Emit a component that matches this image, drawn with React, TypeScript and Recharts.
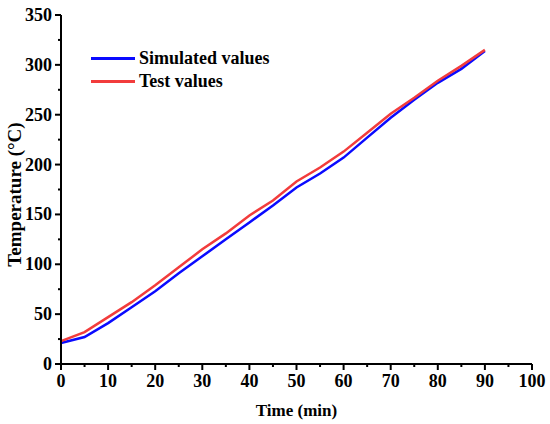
import { LineChart, Line, XAxis, YAxis, Legend } from "recharts";

// time in minutes, temperatures in °C
const times = [0, 5, 10, 15, 20, 25, 30, 35, 40, 45, 50, 55, 60, 65, 70, 75, 80, 85, 90];
const simulated = [21, 27, 41, 57, 73, 91, 108, 125, 142, 159, 177, 191, 207, 227, 247, 265, 282, 296, 314];
const tested = [23, 32, 47, 62, 79, 97, 115, 131, 149, 164, 183, 197, 213, 232, 251, 267, 284, 299, 315];

const xTicks = [0, 5, 10, 15, 20, 25, 30, 35, 40, 45, 50, 55, 60, 65, 70, 75, 80, 85, 90, 95, 100];
const yTicks = [0, 25, 50, 75, 100, 125, 150, 175, 200, 225, 250, 275, 300, 325, 350];

const data = times.map((t, i) => ({ time: t, simulated: simulated[i], test: tested[i] }));

const FONT = '"Liberation Serif", "Times New Roman", serif';
const BLUE = "#0a0aff";
const RED = "#f23c3c";

function XTick({ x, y, payload }: any) {
  const major = payload.value % 10 === 0;
  return (
    <g>
      <line x1={x} x2={x} y1={y} y2={y + (major ? 6 : 3)} stroke="#000" strokeWidth={2} />
      {major && (
        <text x={x} y={y + 17} textAnchor="middle" dominantBaseline="central"
          fontFamily={FONT} fontWeight="bold" fontSize={18} fill="#000">
          {payload.value}
        </text>
      )}
    </g>
  );
}

function YTick({ x, y, payload }: any) {
  const major = payload.value % 50 === 0;
  return (
    <g>
      <line x1={x} x2={x - (major ? 6 : 3)} y1={y} y2={y} stroke="#000" strokeWidth={2} />
      {major && (
        <text x={x - 9} y={y} textAnchor="end" dominantBaseline="central"
          fontFamily={FONT} fontWeight="bold" fontSize={18} fill="#000">
          {payload.value}
        </text>
      )}
    </g>
  );
}

function LegendBox() {
  const rows = [
    { name: "Simulated values", color: BLUE },
    { name: "Test values", color: RED },
  ];
  return (
    <div style={{ fontFamily: FONT, fontWeight: "bold", fontSize: 18, lineHeight: "23px" }}>
      {rows.map((r) => (
        <div key={r.name} style={{ display: "flex", alignItems: "center" }}>
          <span style={{ display: "inline-block", width: 44, height: 3, background: r.color, marginRight: 4 }} />
          <span>{r.name}</span>
        </div>
      ))}
    </div>
  );
}

export default function App() {
  return (
    <div style={{ position: "absolute", left: 0, top: 0, background: "#fff" }}>
      <LineChart width={550} height={424} data={data} margin={{ top: 15, right: 18, bottom: 0, left: 0 }}>
        <XAxis
          dataKey="time"
          type="number"
          domain={[0, 100]}
          ticks={xTicks}
          interval={0}
          tickSize={0}
          tickMargin={0}
          tickLine={false}
          tick={<XTick />}
          height={60}
          axisLine={{ stroke: "#000", strokeWidth: 2 }}
          label={{
            content: ({ viewBox }: any) => (
              <text x={viewBox.x + viewBox.width / 2} y={viewBox.y + 46} textAnchor="middle"
                dominantBaseline="central" fontFamily={FONT} fontWeight="bold" fontSize={17} fill="#000">
                Time (min)
              </text>
            ),
          }}
        />
        <YAxis
          type="number"
          domain={[0, 350]}
          ticks={yTicks}
          interval={0}
          tickSize={0}
          tickMargin={0}
          tickLine={false}
          tick={<YTick />}
          width={61}
          axisLine={{ stroke: "#000", strokeWidth: 2 }}
          label={{
            content: ({ viewBox }: any) => {
              const cx = viewBox.x + 14;
              const cy = viewBox.y + viewBox.height / 2 + 5;
              return (
                <text x={cx} y={cy} transform={`rotate(-90 ${cx} ${cy})`} textAnchor="middle"
                  dominantBaseline="central" fontFamily={FONT} fontWeight="bold" fontSize={19} fill="#000">
                  Temperature (°C)
                </text>
              );
            },
          }}
        />
        <Legend
          content={<LegendBox />}
          layout="horizontal"
          verticalAlign="middle"
          align="center"
          wrapperStyle={{ left: 91, top: 47, width: "auto" }}
        />
        <Line dataKey="simulated" stroke={BLUE} strokeWidth={2.5} dot={false} isAnimationActive={false} />
        <Line dataKey="test" stroke={RED} strokeWidth={2.5} dot={false} isAnimationActive={false} />
      </LineChart>
    </div>
  );
}
